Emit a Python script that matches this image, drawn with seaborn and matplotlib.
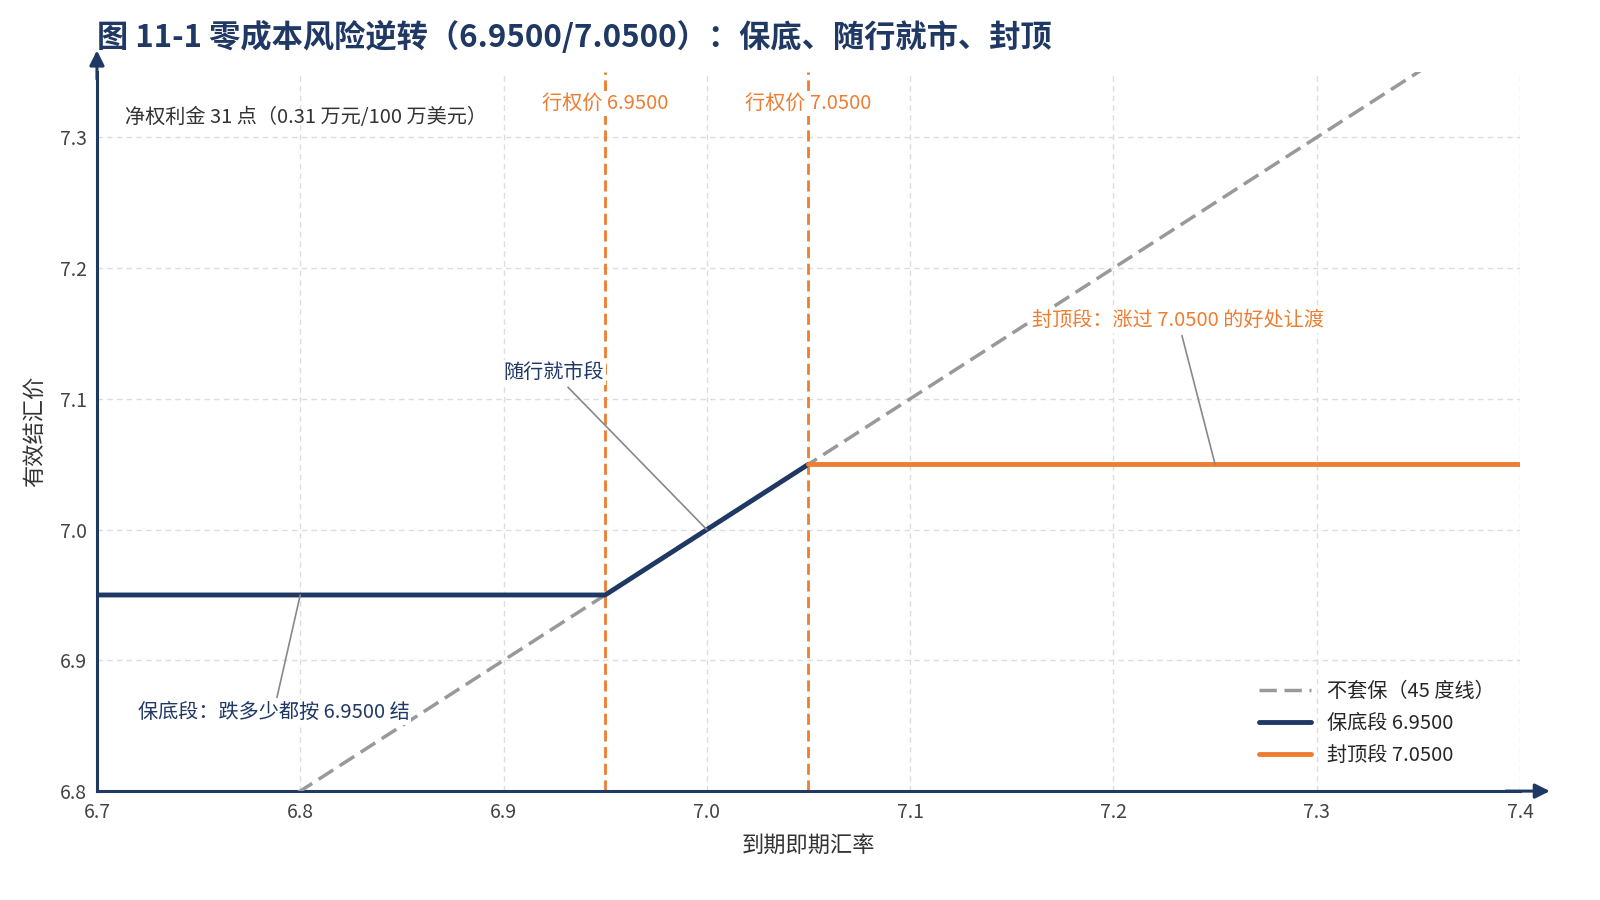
import matplotlib
matplotlib.use("Agg")
import matplotlib.pyplot as plt
import seaborn as sns
import pandas as pd

# ---- data ----
unhedged_x = [6.7, 7.4]
unhedged_y = [6.7, 7.4]
floor_x = [6.7, 6.95, 7.05]
floor_y = [6.95, 6.95, 7.05]
cap_x = [7.05, 7.4]
cap_y = [7.05, 7.05]
strikes = [6.95, 7.05]
strike_labels = ["行权价 6.9500", "行权价 7.0500"]
x_ticks = [6.7, 6.8, 6.9, 7.0, 7.1, 7.2, 7.3, 7.4]
y_ticks = [6.8, 6.9, 7.0, 7.1, 7.2, 7.3]

NAVY = "#1F3864"
ORANGE = "#ED7D31"
GRAY = "#999999"

sns.set_theme(style="white")
plt.rcParams["font.family"] = ["Noto Sans CJK SC", "DejaVu Sans"]
plt.rcParams["axes.unicode_minus"] = False

fig, ax = plt.subplots(figsize=(16, 9), dpi=100)
fig.subplots_adjust(left=0.0606, right=0.95, top=0.92, bottom=0.121)

df_u = pd.DataFrame({"x": unhedged_x, "y": unhedged_y})
df_f = pd.DataFrame({"x": floor_x, "y": floor_y})
df_c = pd.DataFrame({"x": cap_x, "y": cap_y})

sns.lineplot(data=df_u, x="x", y="y", ax=ax, color=GRAY, lw=2.5,
             linestyle=(0, (5, 2.2)), label="不套保（45 度线）", sort=False, zorder=3)
sns.lineplot(data=df_f, x="x", y="y", ax=ax, color=NAVY, lw=3.5,
             label="保底段 6.9500", sort=False, zorder=4)
sns.lineplot(data=df_c, x="x", y="y", ax=ax, color=ORANGE, lw=3.5,
             label="封顶段 7.0500", sort=False, zorder=4)

for s, lab in zip(strikes, strike_labels):
    ax.axvline(s, color=ORANGE, lw=2, linestyle=(0, (4, 2)), zorder=2)
    ax.text(s, 7.326, lab, color=ORANGE, fontsize=14.5, ha="center", va="center",
            bbox=dict(boxstyle="square,pad=0.1", fc="white", ec="none"), zorder=5)

ax.set_xlim(6.7, 7.4)
ax.set_ylim(6.8, 7.35)
ax.set_xticks(x_ticks)
ax.set_yticks(y_ticks)
ax.set_xticklabels([f"{v:.1f}" for v in x_ticks])
ax.set_yticklabels([f"{v:.1f}" for v in y_ticks])
ax.tick_params(axis="both", labelsize=14, labelcolor="#444444", length=4, width=1,
               color=NAVY)

ax.grid(True, color="#DDDDDD", linestyle=(0, (4, 3)), lw=1)
for sp in ["top", "right"]:
    ax.spines[sp].set_visible(False)
for sp in ["left", "bottom"]:
    ax.spines[sp].set_color(NAVY)
    ax.spines[sp].set_linewidth(2.2)

# axis arrows
ax.annotate("", xy=(1.021, 0), xytext=(0.99, 0), xycoords="axes fraction",
            arrowprops=dict(arrowstyle="-|>", color=NAVY, lw=2.2, mutation_scale=22,
                            shrinkA=0, shrinkB=0), annotation_clip=False)
ax.annotate("", xy=(0, 1.03), xytext=(0, 0.99), xycoords="axes fraction",
            arrowprops=dict(arrowstyle="-|>", color=NAVY, lw=2.2, mutation_scale=22,
                            shrinkA=0, shrinkB=0), annotation_clip=False)

ax.set_xlabel("到期即期汇率", fontsize=16, color="#333333", labelpad=8)
ax.set_ylabel("有效结汇价", fontsize=16, color="#333333", labelpad=10)

fig.text(0.0606, 0.958, "图 11-1 零成本风险逆转（6.9500/7.0500）：保底、随行就市、封顶",
         fontsize=22.5, fontweight="bold", color=NAVY, ha="left", va="center")

ax.text(0.02, 0.937, "净权利金 31 点（0.31 万元/100 万美元）", transform=ax.transAxes,
        fontsize=14.5, color="#333333", ha="left", va="center")

ann_kw = dict(arrowprops=dict(arrowstyle="-", color="#888888", lw=1.2,
                              shrinkA=2, shrinkB=0),
              fontsize=14.5, bbox=dict(boxstyle="square,pad=0.1", fc="white", ec="none"))
ax.annotate("随行就市段", xy=(7.0, 7.0), xytext=(6.90, 7.12), color=NAVY,
            ha="left", va="center", zorder=6, **ann_kw)
ax.annotate("封顶段：涨过 7.0500 的好处让渡", xy=(7.25, 7.05), xytext=(7.16, 7.16),
            color=ORANGE, ha="left", va="center", zorder=6, **ann_kw)
ax.annotate("保底段：跌多少都按 6.9500 结", xy=(6.8, 6.95), xytext=(6.72, 6.86),
            color=NAVY, ha="left", va="center", zorder=6, **ann_kw)

leg = ax.legend(loc="lower right", frameon=False, fontsize=14.5,
                bbox_to_anchor=(0.995, 0.01), handlelength=2.6, labelspacing=0.55)

fig.savefig("out.png", dpi=100)
